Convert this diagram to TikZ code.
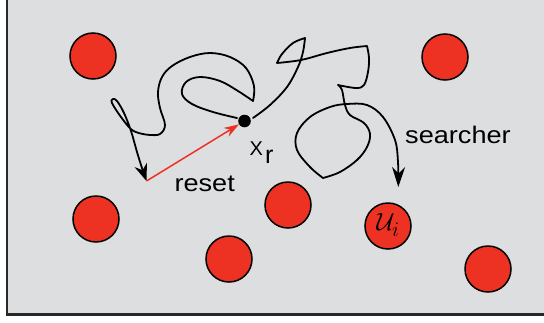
\documentclass[tikz,border=0pt]{standalone}
\usepackage{fontspec}
\setmainfont{Liberation Sans}
\usepackage{amsmath,amssymb}
\usepackage{tikz}
\usetikzlibrary{arrows.meta}
\definecolor{PanelGray}{RGB}{221,222,224}
\definecolor{TrapRed}{RGB}{237,50,36}
\definecolor{FrameInk}{RGB}{40,40,40}
\newcommand{\TrapSize}{46pt}
\tikzset{
	target/.style={circle,draw=black,line width=1.5pt,fill=TrapRed,minimum size=\TrapSize,inner sep=0pt},
	walk/.style={draw=black,line width=1.8pt,line join=round,line cap=round},
	dot/.style={circle,fill=black,minimum size=12.6pt,inner sep=0pt},
	resetline/.style={draw=TrapRed,line width=1.5pt,-{Stealth[length=15pt,width=10pt]}},
	lbl/.style={font=\fontsize{24}{24}\selectfont,inner sep=0pt,xscale=1.13}
}

\begin{document}
\begin{tikzpicture}[x=1pt,y=-1pt]
		\useasboundingbox (0,0) rectangle (544,322);
		\fill[PanelGray] (6.7,0) rectangle (544,314.5);
		\draw[FrameInk,line width=2.2pt] (6.7,0) -- (6.7,314.5) -- (544,314.5);
		% traps
		\foreach \i/\cx/\cy in {1/93/56,2/445/57,3/96/219,4/288/205,5/229/259,6/388/226,7/488/269}{
			\node[target] (t\i) at (\cx,\cy) {};
		}
		\node[font=\fontsize{29}{29}\selectfont,inner sep=0pt] (uilbl) at (388,225) {$\mathcal{U}_i$};
		% reset point and searcher
		\node[dot] (xr) at (244.5,121) {};
		\coordinate (resetpt) at (146.5,181);
		% path before the reset
		\draw[walk,-{Stealth[length=17pt,width=13pt]}]
			plot[smooth,tension=0.6] coordinates {(237,118) (213,112) (192,104) (182,94) (186,82) (200,77) (220,81) (238,91) (253,101)}
			-- plot[smooth,tension=0.6] coordinates {(253,101) (254,86) (246,68) (230,57) (210,53) (190,57) (172,66) (162,77) (158,92) (160,108) (165,125) (160,134) (150,135) (143,134)}
			-- plot[smooth,tension=0.6] coordinates {(143,134) (132,130) (121,117) (112,103) (113,99) (117,101) (124,113) (131,131) (137,152) (142,168) (146.5,181)};
		% path after the reset
		\draw[walk,-{Stealth[length=20pt,width=13pt]}]
			plot[smooth,tension=0.6] coordinates {(253,118) (270,105) (287,87) (298,67) (303,52) (305,38)}
			-- plot[smooth,tension=0.6] coordinates {(305,38) (293,43) (282,54) (277,63)}
			-- plot[smooth,tension=0.6] coordinates {(277,63) (301,60) (327,53) (350,48) (367,46)}
			-- plot[smooth,tension=0.6] coordinates {(367,46) (369,58) (368,72) (364,85) (356,88) (338,85)}
			-- plot[smooth,tension=0.6] coordinates {(338,85) (342,90) (345,105) (350,115) (364,123) (370,134) (367,147) (357,160) (340,172) (323,178)}
			-- plot[smooth,tension=0.6] coordinates {(323,178) (310,167) (297,150) (297,133) (310,117) (330,107) (347,104) (367,105) (383,117) (395,140) (398,162) (398.3,187)};
		\draw[resetline] (resetpt) -- (xr);
		% labels
		\node[anchor=base west,inner sep=0pt] (xrlbl) at (249.5,155) {\fontsize{20}{20}\selectfont X\hspace{2pt}\raisebox{-8pt}{\fontsize{25}{25}\selectfont r}};
		\node[lbl,anchor=base west] (resetlbl) at (174.3,191.7) {reset};
		\node[lbl,anchor=base west] (searchlbl) at (405,143.3) {searcher};
\end{tikzpicture}
\end{document}
